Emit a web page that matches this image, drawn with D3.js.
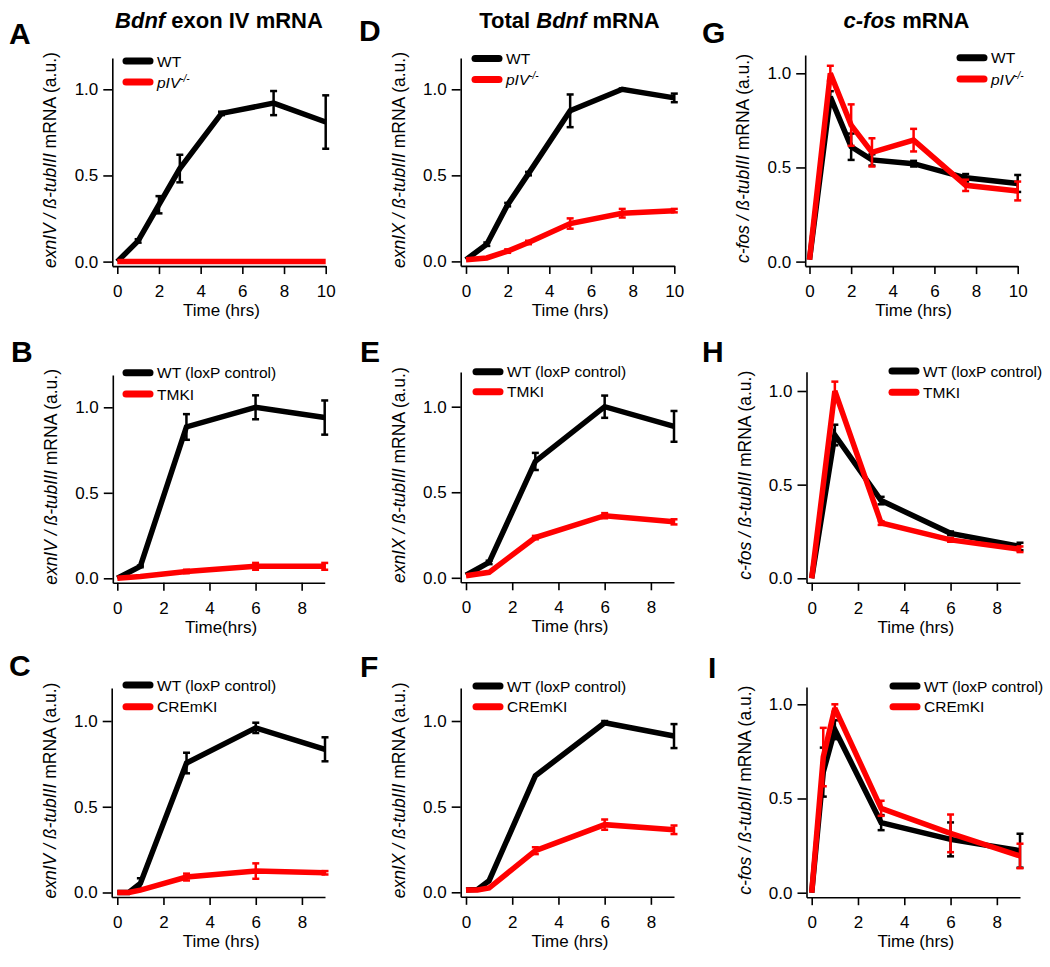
<!DOCTYPE html>
<html><head><meta charset="utf-8">
<script src="https://cdnjs.cloudflare.com/ajax/libs/d3/7.8.5/d3.min.js"></script>
<style>
html,body{margin:0;padding:0;background:#fff;}
svg{display:block;font-family:"Liberation Sans",Arial,Helvetica,sans-serif;}
</style></head>
<body>
<svg id="chart" width="1050" height="967"></svg>
<script>
// ---------------- DATA ----------------
const time10 = [0, 1, 2, 3, 5, 7.5, 10];
const time9a = [0, 1, 3, 6, 9];
const time9b = [0, 0.5, 1, 3, 6, 9];
const ticks10 = [0, 2, 4, 6, 8, 10];
const ticks9 = [0, 2, 4, 6, 8];
const yTicks = [0, 0.5, 1.0];

// A: Bdnf exon IV, WT vs pIV-/-
const wtA = [0, 0.12, 0.33, 0.54, 0.86, 0.92, 0.81];
const wtAErr = [0, 0.01, 0.05, 0.08, 0.01, 0.07, 0.155];
const mutA = [0, 0, 0, 0, 0, 0, 0];
const mutAErr = [0, 0, 0, 0, 0, 0, 0];
// D: total Bdnf, WT vs pIV-/-
const wtD = [0.01, 0.10, 0.33, 0.51, 0.875, 1.0, 0.95];
const wtDErr = [0, 0.01, 0.01, 0.01, 0.095, 0.005, 0.025];
const mutD = [0.01, 0.02, 0.06, 0.11, 0.22, 0.28, 0.295];
const mutDErr = [0, 0, 0.01, 0.01, 0.03, 0.025, 0.01];
// G: c-fos, WT vs pIV-/-
const wtG = [0.01, 0.875, 0.61, 0.54, 0.52, 0.445, 0.415];
const wtGErr = [0, 0.03, 0.07, 0.03, 0.015, 0.02, 0.045];
const mutG = [0.01, 1.0, 0.725, 0.58, 0.645, 0.405, 0.375];
const mutGErr = [0, 0.04, 0.11, 0.075, 0.06, 0.03, 0.05];
// B: exon IV, WT (loxP) vs TMKI
const wtB = [0, 0.07, 0.885, 1.0, 0.94];
const wtBErr = [0, 0.005, 0.075, 0.07, 0.1];
const mutB = [0, 0.01, 0.04, 0.07, 0.07];
const mutBErr = [0, 0, 0.01, 0.02, 0.02];
// E: total Bdnf, WT (loxP) vs TMKI
const wtE = [0.015, 0.09, 0.68, 1.0, 0.885];
const wtEErr = [0, 0.01, 0.05, 0.065, 0.09];
const mutE = [0.012, 0.032, 0.235, 0.363, 0.327];
const mutEErr = [0, 0, 0.01, 0.015, 0.015];
// H: c-fos, WT (loxP) vs TMKI
const wtH = [0, 0.765, 0.415, 0.24, 0.17];
const wtHErr = [0, 0.055, 0.02, 0.01, 0.02];
const mutH = [0, 1.0, 0.295, 0.205, 0.155];
const mutHErr = [0, 0.05, 0.01, 0.01, 0.015];
// C: exon IV, WT (loxP) vs CREmKI
const wtC = [0, 0.0, 0.053, 0.755, 0.96, 0.835];
const wtCErr = [0, 0, 0.03, 0.06, 0.03, 0.07];
const mutC = [0, 0, 0.014, 0.09, 0.125, 0.115];
const mutCErr = [0, 0, 0, 0.02, 0.045, 0.01];
// F: total Bdnf, WT (loxP) vs CREmKI
const wtF = [0.014, 0.017, 0.068, 0.68, 0.99, 0.912];
const wtFErr = [0, 0, 0, 0, 0.01, 0.07];
const mutF = [0.014, 0.014, 0.025, 0.243, 0.395, 0.365];
const mutFErr = [0, 0, 0, 0.02, 0.03, 0.025];
// I: c-fos, WT (loxP) vs CREmKI
const wtI = [0, 0.64, 0.865, 0.372, 0.283, 0.223];
const wtIErr = [0, 0.13, 0.05, 0.04, 0.09, 0.09];
const mutI = [0, 0.72, 0.98, 0.448, 0.315, 0.195];
const mutIErr = [0, 0.155, 0.02, 0.04, 0.1, 0.065];

const columnTitles = [
  [{t:"Bdnf", i:true}, {t:" exon IV mRNA"}],
  [{t:"Total "}, {t:"Bdnf", i:true}, {t:" mRNA"}],
  [{t:"c-fos", i:true}, {t:" mRNA"}]
];
const yLabels = [
  [{t:"exnIV / ß-tubIII", i:true}, {t:" mRNA (a.u.)"}],
  [{t:"exnIX / ß-tubIII", i:true}, {t:" mRNA (a.u.)"}],
  [{t:"c-fos / ß-tubIII", i:true}, {t:" mRNA (a.u.)"}]
];
const mutLabelsByRow = ["pIV", "TMKI", "CREmKI"];
const wtLabelsByRow = ["WT", "WT (loxP control)", "WT (loxP control)"];
const xTitlesByRow = [["Time (hrs)","Time (hrs)","Time (hrs)"],["Time(hrs)","Time (hrs)","Time (hrs)"],["Time (hrs)","Time (hrs)","Time (hrs)"]];

const panels = [
  {id:"A", row:0, col:0, t:time10, xmax:10, ticks:ticks10, wt:wtA, wtErr:wtAErr, mut:mutA, mutErr:mutAErr},
  {id:"D", row:0, col:1, t:time10, xmax:10, ticks:ticks10, wt:wtD, wtErr:wtDErr, mut:mutD, mutErr:mutDErr},
  {id:"G", row:0, col:2, t:time10, xmax:10, ticks:ticks10, wt:wtG, wtErr:wtGErr, mut:mutG, mutErr:mutGErr},
  {id:"B", row:1, col:0, t:time9a, xmax:9, ticks:ticks9, wt:wtB, wtErr:wtBErr, mut:mutB, mutErr:mutBErr},
  {id:"E", row:1, col:1, t:time9a, xmax:9, ticks:ticks9, wt:wtE, wtErr:wtEErr, mut:mutE, mutErr:mutEErr},
  {id:"H", row:1, col:2, t:time9a, xmax:9, ticks:ticks9, wt:wtH, wtErr:wtHErr, mut:mutH, mutErr:mutHErr},
  {id:"C", row:2, col:0, t:time9b, xmax:9, ticks:ticks9, wt:wtC, wtErr:wtCErr, mut:mutC, mutErr:mutCErr},
  {id:"F", row:2, col:1, t:time9b, xmax:9, ticks:ticks9, wt:wtF, wtErr:wtFErr, mut:mutF, mutErr:mutFErr},
  {id:"I", row:2, col:2, t:time9b, xmax:9, ticks:ticks9, wt:wtI, wtErr:wtIErr, mut:mutI, mutErr:mutIErr}
];

// ---------------- LAYOUT (pixels) ----------------
const layout = {
  A:{axisX:112.3, x0:117.3, xR:325.7, y0:261.6, y1:89.3, top:58,  legX:123, legY:[61,82],   letter:[9,43.5]},
  D:{axisX:460.7, x0:466,   xR:674.3, y0:261.4, y1:89.3, top:58,  legX:472, legY:[58.5,79.5], letter:[359,41]},
  G:{axisX:805.2, x0:809.5, xR:1017.7,y0:261.6, y1:73.3, top:55,  legX:957, legY:[57.7,79], letter:[702,43.3]},
  B:{axisX:112.8, x0:117.3, xR:324.7, y0:578.3, y1:407.3,top:375, legX:123, legY:[372.7,394], letter:[11,362]},
  E:{axisX:460.7, x0:466,   xR:674,   y0:577.8, y1:406.7,top:372, legX:473, legY:[371.7,391.7], letter:[360,362]},
  H:{axisX:806.5, x0:811.7, xR:1020,  y0:578.3, y1:391,  top:371.7,legX:889, legY:[371,392.3], letter:[702,362]},
  C:{axisX:111.7, x0:117.3, xR:325,   y0:892.5, y1:721,  top:688, legX:123, legY:[685,706.7], letter:[9,676]},
  F:{axisX:460.7, x0:466,   xR:674,   y0:892.3, y1:721,  top:688, legX:473, legY:[686,706.7], letter:[360,677]},
  I:{axisX:806.5, x0:811.7, xR:1020,  y0:892.7, y1:704.3,top:687, legX:890, legY:[686,706.7], letter:[708,678]}
};
const titlePos = [[219,28],[569.5,28],[906.5,28]];
const RED = "#ff0000", BLACK = "#000000";

const svg = d3.select("#chart");

function richText(sel, parts) {
  parts.forEach(p => {
    sel.append("tspan").text(p.t).attr("font-style", p.i ? "italic" : "normal");
  });
}

// column titles
columnTitles.forEach((parts, c) => {
  const t = svg.append("text").attr("x", titlePos[c][0]).attr("y", titlePos[c][1])
    .attr("text-anchor","middle").attr("font-weight","bold").attr("font-size", 22);
  richText(t, parts);
});

panels.forEach(p => {
  const L = layout[p.id];
  const xppu = (L.xR - L.x0) / p.xmax;
  const x = d3.scaleLinear().domain([(L.axisX - L.x0) / xppu, p.xmax]).range([L.axisX, L.xR]);
  const yppu = L.y0 - L.y1;
  const xAxisY = L.y0 + 4.5;
  const y = d3.scaleLinear().domain([-4.5 / yppu, (L.y0 - L.top) / yppu]).range([xAxisY, L.top]);

  const g = svg.append("g");

  // panel letter
  g.append("text").attr("x", L.letter[0]).attr("y", L.letter[1])
    .attr("font-weight","bold").attr("font-size", 30).text(p.id);

  // axes
  const ya = g.append("g").attr("transform", `translate(${L.axisX},0)`)
    .call(d3.axisLeft(y).tickValues(yTicks).tickFormat(d3.format(".1f")).tickSize(9).tickSizeOuter(0).tickPadding(5));
  const xa = g.append("g").attr("transform", `translate(0,${xAxisY})`)
    .call(d3.axisBottom(x).tickValues(p.ticks).tickFormat(d3.format("d")).tickSize(8).tickSizeOuter(0).tickPadding(11));
  [ya, xa].forEach(a => {
    a.selectAll("path.domain").attr("stroke", "#000").attr("stroke-width", 1.6);
    a.selectAll(".tick line").attr("stroke", "#000").attr("stroke-width", 1.6);
    a.selectAll(".tick text").attr("font-size", 17).attr("fill", "#000")
      .attr("font-family", '"Liberation Sans",Arial,Helvetica,sans-serif');
  });

  // axis titles
  const yl = g.append("text")
    .attr("transform", `translate(${L.axisX - 56},${(L.top + xAxisY) / 2 - 2}) rotate(-90)`)
    .attr("text-anchor","middle").attr("font-size", 17.5);
  richText(yl, yLabels[p.col]);
  g.append("text").attr("x", (L.x0 + L.xR) / 2).attr("y", xAxisY + 50)
    .attr("text-anchor","middle").attr("font-size", 17).text(xTitlesByRow[p.row][p.col]);

  // series
  const series = [
    {vals: p.wt, err: p.wtErr, color: BLACK},
    {vals: p.mut, err: p.mutErr, color: RED}
  ];
  const line = d3.line().x(d => x(d[0])).y(d => y(d[1]));
  series.forEach(s => {
    const pts = p.t.map((tt, i) => [tt, s.vals[i], s.err[i]]);
    g.append("path").datum(pts).attr("d", line)
      .attr("fill","none").attr("stroke", s.color).attr("stroke-width", 5.5)
      .attr("stroke-linejoin","miter").attr("stroke-miterlimit", 3);
    const eb = g.append("g").attr("stroke", s.color).attr("stroke-width", 2.5);
    pts.filter(d => d[2] > 0.004).forEach(d => {
      const cx = x(d[0]), yt = y(d[1] + d[2]), yb = y(d[1] - d[2]);
      eb.append("line").attr("x1", cx).attr("x2", cx).attr("y1", yt).attr("y2", yb);
      eb.append("line").attr("x1", cx - 3.5).attr("x2", cx + 3.5).attr("y1", yt).attr("y2", yt);
      eb.append("line").attr("x1", cx - 3.5).attr("x2", cx + 3.5).attr("y1", yb).attr("y2", yb);
    });
  });

  // legend
  const legs = [
    {label: wtLabelsByRow[p.row], color: BLACK, sup: false},
    {label: mutLabelsByRow[p.row], color: RED, sup: p.row === 0}
  ];
  legs.forEach((lg, i) => {
    const ly = L.legY[i];
    g.append("line").attr("x1", L.legX + 3).attr("x2", L.legX + 27).attr("y1", ly).attr("y2", ly)
      .attr("stroke", lg.color).attr("stroke-width", 7).attr("stroke-linecap","round");
    const tx = g.append("text").attr("x", L.legX + 34).attr("y", ly + 5.5).attr("font-size", 15.5);
    if (lg.sup) {
      tx.append("tspan").attr("font-style","italic").text(lg.label);
      tx.append("tspan").attr("font-style","italic").attr("font-size", 10).attr("dy", -6).text("-/-");
    } else {
      tx.text(lg.label);
    }
  });
});
</script>
</body></html>
